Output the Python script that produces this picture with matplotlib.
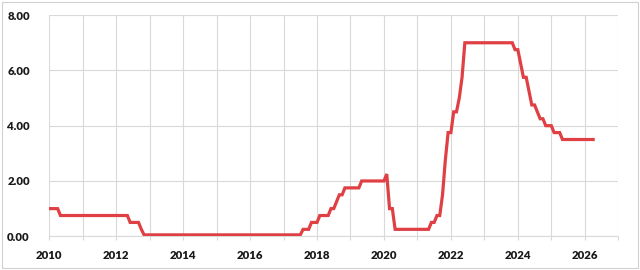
import matplotlib
matplotlib.use("Agg")
import matplotlib.pyplot as plt
import numpy as np
from matplotlib.patches import Rectangle

# Taxa mensal (valor no fim de cada mês), Jan 2010 - Abr 2026
taxa_2010 = [1.00, 1.00, 1.00, 1.00, 0.75, 0.75, 0.75, 0.75, 0.75, 0.75, 0.75, 0.75]
taxa_2011 = [0.75] * 12
taxa_2012 = [0.75, 0.75, 0.75, 0.75, 0.75, 0.50, 0.50, 0.50, 0.50, 0.25, 0.05, 0.05]
taxa_2013 = [0.05] * 12
taxa_2014 = [0.05] * 12
taxa_2015 = [0.05] * 12
taxa_2016 = [0.05] * 12
taxa_2017 = [0.05, 0.05, 0.05, 0.05, 0.05, 0.05, 0.05, 0.25, 0.25, 0.25, 0.50, 0.50]
taxa_2018 = [0.50, 0.75, 0.75, 0.75, 0.75, 1.00, 1.00, 1.25, 1.50, 1.50, 1.75, 1.75]
taxa_2019 = [1.75, 1.75, 1.75, 1.75, 2.00, 2.00, 2.00, 2.00, 2.00, 2.00, 2.00, 2.00]
taxa_2020 = [2.00, 2.25, 1.00, 1.00, 0.25, 0.25, 0.25, 0.25, 0.25, 0.25, 0.25, 0.25]
taxa_2021 = [0.25, 0.25, 0.25, 0.25, 0.25, 0.50, 0.50, 0.75, 0.75, 1.50, 2.75, 3.75]
taxa_2022 = [3.75, 4.50, 4.50, 5.00, 5.75, 7.00, 7.00, 7.00, 7.00, 7.00, 7.00, 7.00]
taxa_2023 = [7.00, 7.00, 7.00, 7.00, 7.00, 7.00, 7.00, 7.00, 7.00, 7.00, 7.00, 6.75]
taxa_2024 = [6.75, 6.25, 5.75, 5.75, 5.25, 4.75, 4.75, 4.50, 4.25, 4.25, 4.00, 4.00]
taxa_2025 = [4.00, 3.75, 3.75, 3.75, 3.50, 3.50, 3.50, 3.50, 3.50, 3.50, 3.50, 3.50]
taxa_2026 = [3.50, 3.50, 3.50, 3.50]

anos_ticks = [2010, 2012, 2014, 2016, 2018, 2020, 2022, 2024, 2026]
y_ticks = [0, 2, 4, 6, 8]

valores = np.array(taxa_2010 + taxa_2011 + taxa_2012 + taxa_2013 + taxa_2014 +
                   taxa_2015 + taxa_2016 + taxa_2017 + taxa_2018 + taxa_2019 +
                   taxa_2020 + taxa_2021 + taxa_2022 + taxa_2023 + taxa_2024 +
                   taxa_2025 + taxa_2026)
# posição em anos fracionários: mês 0 = jan/2010
tempo = 2010 + np.arange(len(valores)) / 12.0

plt.rcParams['font.family'] = ['Lato', 'DejaVu Sans']

fig = plt.figure(figsize=(6.4, 2.7), dpi=100)
ax = fig.add_axes([0.077, 0.125, 0.889, 0.819])

cinza = "#d9d9d9"
ax.plot(tempo, valores, color="#e04044", linewidth=2.3, solid_joinstyle="miter", zorder=3)

ax.set_xlim(2010, 2027)
ax.set_ylim(0, 8)
ax.set_xticks(anos_ticks)
ax.set_xticks(np.arange(2010, 2028), minor=True)
ax.set_yticks(y_ticks)
ax.set_yticklabels([f"{v:.2f}" for v in y_ticks])

ax.grid(True, which="both", axis="x", color=cinza, linewidth=0.8)
ax.grid(True, which="major", axis="y", color=cinza, linewidth=0.8)

for lado in ["top", "right", "left"]:
    ax.spines[lado].set_visible(False)
ax.spines["bottom"].set_color(cinza)
ax.spines["bottom"].set_linewidth(0.8)

ax.tick_params(axis="x", which="both", length=3, color=cinza, width=0.8, pad=7)
ax.tick_params(axis="y", length=0, pad=14)
for lbl in ax.get_xticklabels() + ax.get_yticklabels():
    lbl.set_fontsize(8.2)
    lbl.set_fontweight("heavy")
    lbl.set_color("#1a1a1a")

# moldura externa clara
fig.patches.append(Rectangle((0.003, 0.006), 0.994, 0.988, transform=fig.transFigure,
                             fill=False, edgecolor="#d0d0d0", linewidth=0.8))

plt.savefig("out.png", dpi=100)
plt.close()
